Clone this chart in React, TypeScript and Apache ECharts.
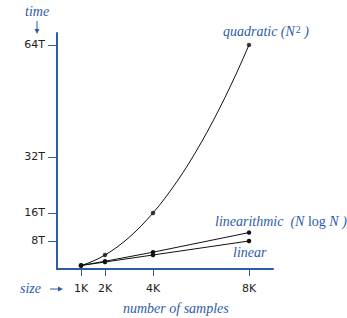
import React, { useEffect, useRef } from "react";
import * as echarts from "echarts";

const sizes = [1, 2, 4, 8];
const quadratic = [1, 4, 16, 64];
const linearithmic = [1, 2.2, 4.8, 10.4];
const linear = [1, 2, 4, 8];
const yTicks = [8, 16, 32, 64];
const xTicks = [1, 2, 4, 8];

const BLUE = "#2d5ca6";
const SERIF = "'Liberation Serif', 'DejaVu Serif', serif";
const SANS = "'DejaVu Sans', sans-serif";

// slope of the parabola through three data points, evaluated at x
function parabolaSlope(xs: number[], ys: number[], k: number, x: number) {
  const [x0, x1, x2] = [xs[k], xs[k + 1], xs[k + 2]];
  const [y0, y1, y2] = [ys[k], ys[k + 1], ys[k + 2]];
  const d0 = (2 * x - x1 - x2) / ((x0 - x1) * (x0 - x2));
  const d1 = (2 * x - x0 - x2) / ((x1 - x0) * (x1 - x2));
  const d2 = (2 * x - x0 - x1) / ((x2 - x0) * (x2 - x1));
  return y0 * d0 + y1 * d1 + y2 * d2;
}

export default function App() {
  const ref = useRef<HTMLDivElement>(null);
  useEffect(() => {
    if (!ref.current) return;
    const chart = echarts.init(ref.current, undefined, { renderer: "svg" });
    const pairs = (ys: number[]) => sizes.map((x, i) => [x, ys[i]]);
    const n = sizes.length;
    const slopes = sizes.map((x, i) => {
      const k = Math.min(Math.max(i - 1, 0), n - 3);
      return parabolaSlope(sizes, quadratic, k, x);
    });
    const lineSeries = (name: string, ys: number[]) => ({
      name,
      type: "line",
      data: pairs(ys),
      symbol: "circle",
      symbolSize: 4.5,
      itemStyle: { color: "#111" },
      lineStyle: { color: "#111", width: 1 },
    });
    const it = `italic 14px ${SERIF}`;
    chart.setOption({
      animation: false,
      grid: { left: 57, right: 74, top: 33, bottom: 49 },
      xAxis: {
        type: "value",
        min: 0,
        max: 9,
        axisLine: { show: true, lineStyle: { color: BLUE, width: 2 } },
        axisTick: { show: true, customValues: xTicks, length: 7, lineStyle: { color: BLUE, width: 1 } },
        axisLabel: {
          customValues: xTicks,
          formatter: (v: number) => `${v}K`,
          color: "#222",
          fontFamily: SANS,
          fontSize: 11,
          margin: 14,
        },
        splitLine: { show: false },
      },
      yAxis: {
        type: "value",
        min: 0,
        max: 67.4,
        axisLine: { show: true, lineStyle: { color: BLUE, width: 2 } },
        axisTick: { show: true, customValues: yTicks, length: 9, lineStyle: { color: BLUE, width: 1 } },
        axisLabel: {
          customValues: yTicks,
          formatter: (v: number) => `${v}T`,
          color: "#222",
          fontFamily: SANS,
          fontSize: 11,
          margin: 12,
        },
        splitLine: { show: false },
      },
      series: [
        {
          name: "quadratic-curve",
          type: "custom",
          data: pairs(quadratic),
          renderItem: (params: any, api: any) => {
            const i = params.dataIndex;
            if (i === 0) return null;
            const xa = sizes[i - 1], xb = sizes[i];
            const ya = quadratic[i - 1], yb = quadratic[i];
            const h = (xb - xa) / 3;
            const p0 = api.coord([xa, ya]);
            const p1 = api.coord([xb, yb]);
            const c1 = api.coord([xa + h, ya + h * slopes[i - 1]]);
            const c2 = api.coord([xb - h, yb - h * slopes[i]]);
            return {
              type: "bezierCurve",
              shape: { x1: p0[0], y1: p0[1], x2: p1[0], y2: p1[1], cpx1: c1[0], cpy1: c1[1], cpx2: c2[0], cpy2: c2[1] },
              style: { stroke: "#111", lineWidth: 1, fill: null },
            };
          },
          z: 2,
        },
        {
          name: "quadratic",
          type: "scatter",
          data: pairs(quadratic),
          symbol: "circle",
          symbolSize: 4.5,
          itemStyle: { color: "#111" },
          z: 3,
        },
        lineSeries("linearithmic", linearithmic),
        lineSeries("linear", linear),
      ],
      graphic: [
        { type: "text", left: 25, top: 4, style: { text: "time", fill: BLUE, font: it } },
        { type: "line", shape: { x1: 37, y1: 21, x2: 37, y2: 31 }, style: { stroke: BLUE, lineWidth: 1 } },
        { type: "polygon", shape: { points: [[34.5, 29], [39.5, 29], [37, 34]] }, style: { fill: BLUE } },
        { type: "text", left: 20, top: 281, style: { text: "size", fill: BLUE, font: it } },
        { type: "line", shape: { x1: 50, y1: 289, x2: 60, y2: 289 }, style: { stroke: BLUE, lineWidth: 1 } },
        { type: "polygon", shape: { points: [[58, 286.5], [58, 291.5], [63, 289]] }, style: { fill: BLUE } },
        { type: "text", left: 123, top: 301, style: { text: "number of samples", fill: BLUE, font: it } },
        {
          type: "text", left: 223, top: 24,
          style: {
            text: "{i|quadratic} {n|(N}{s|2}{n| )}",
            rich: {
              i: { fill: BLUE, font: it },
              n: { fill: BLUE, font: it },
              s: { fill: BLUE, font: `10px ${SERIF}`, verticalAlign: "top", padding: [0, 0, 4, 1] },
            },
          },
        },
        {
          type: "text", left: 215, top: 214,
          style: {
            text: "{i|linearithmic  (N }{u|log}{i| N )}",
            rich: {
              i: { fill: BLUE, font: `italic 14px ${SERIF}` },
              u: { fill: BLUE, font: `14px ${SERIF}` },
            },
          },
        },
        { type: "text", left: 233, top: 245, style: { text: "linear", fill: BLUE, font: it } },
      ],
    });
    return () => chart.dispose();
  }, []);
  return (
    <div style={{ position: "absolute", left: 0, top: 0 }}>
      <div ref={ref} style={{ width: 347, height: 318 }} />
    </div>
  );
}
